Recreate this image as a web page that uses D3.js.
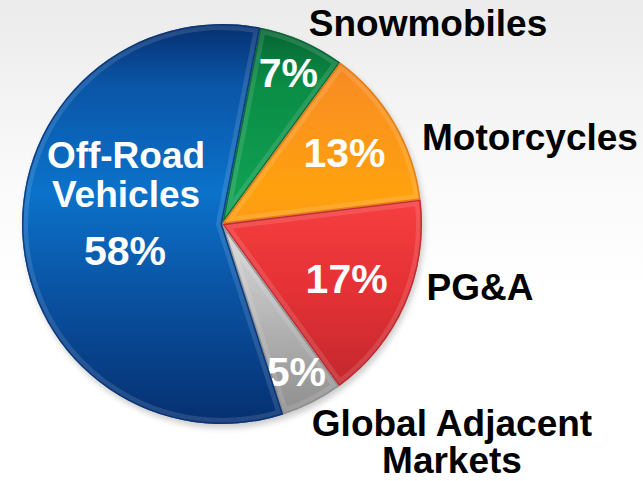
<!DOCTYPE html>
<meta charset="utf-8">
<style>
body { margin: 0; background: #fff; }
text { font-family: "Liberation Sans", Arial, sans-serif; font-weight: bold; }
</style>
<svg width="643" height="481"></svg>
<script src="https://d3js.org/d3.v7.min.js"></script>
<script>

// data, clockwise from the top
var segments = ["Snowmobiles", "Motorcycles", "PG&A", "Global Adjacent Markets", "Off-Road Vehicles"];
var shares = [7, 13, 17, 5, 58];
var outerLabels = [["Snowmobiles"], ["Motorcycles"], ["PG&A"], ["Global Adjacent", "Markets"], []];
var innerLabels = [[], [], [], [], ["Off-Road", "Vehicles"]];

// colours: [dark, base, light]
var sliceColors = [
  ["#056030", "#0a8c45", "#10a052"],
  ["#d9760f", "#f98e22", "#ffa10e"],
  ["#b5242a", "#e63236", "#f74040"],
  ["#8a8a8a", "#c4c4c4", "#e4e4e4"],
  ["#062f70", "#0a55a6", "#0b72ca"]
];

var svg = d3.select("svg"), width = +svg.attr("width"), height = +svg.attr("height");
var cx = 222, cy = 224, r = 200;
var startAt = 11 * Math.PI / 180;

var defs = svg.append("defs");

var bg = defs.append("linearGradient").attr("id", "bg").attr("x1", 0).attr("y1", 0).attr("x2", 0).attr("y2", 1);
bg.append("stop").attr("offset", "0").attr("stop-color", "#ebebeb");
bg.append("stop").attr("offset", "0.35").attr("stop-color", "#f9f9f9");
bg.append("stop").attr("offset", "0.6").attr("stop-color", "#ffffff");
svg.append("rect").attr("width", width).attr("height", height).attr("fill", "url(#bg)");

var shadow = defs.append("filter").attr("id", "shadow").attr("x", "-20%").attr("y", "-20%").attr("width", "140%").attr("height", "140%");
shadow.append("feGaussianBlur").attr("stdDeviation", 3);

sliceColors.forEach(function(c, i) {
  var g = defs.append("linearGradient").attr("id", "fill" + i)
    .attr("gradientUnits", "userSpaceOnUse")
    .attr("x1", 0).attr("y1", -r).attr("x2", 0).attr("y2", r);
  g.append("stop").attr("offset", "0").attr("stop-color", c[0]);
  g.append("stop").attr("offset", "0.15").attr("stop-color", c[1]);
  g.append("stop").attr("offset", "0.42").attr("stop-color", c[2]);
  g.append("stop").attr("offset", "0.65").attr("stop-color", c[1]);
  g.append("stop").attr("offset", "1").attr("stop-color", c[0]);
});

var pie = d3.pie().sort(null).value(function(d) { return d; })
  .startAngle(startAt).endAngle(startAt + 2 * Math.PI);
var arcs = pie(shares);
var arc = d3.arc().innerRadius(0).outerRadius(r);

var chart = svg.append("g").attr("transform", "translate(" + cx + "," + cy + ")");

// soft shadow under the disc
chart.append("circle").attr("cx", 2).attr("cy", 4).attr("r", r)
  .attr("fill", "#000").attr("opacity", 0.2).attr("filter", "url(#shadow)");

arcs.forEach(function(a, i) {
  defs.append("clipPath").attr("id", "clip" + i).append("path").attr("d", arc(a));
});

var slices = chart.selectAll("g.slice").data(arcs).enter().append("g").attr("class", "slice");

slices.append("path")
  .attr("d", arc)
  .attr("fill", function(d, i) { return "url(#fill" + i + ")"; });

// bevel: light band just inside the edges, dark rim
slices.append("path")
  .attr("d", arc)
  .attr("fill", "none")
  .attr("clip-path", function(d, i) { return "url(#clip" + i + ")"; })
  .attr("stroke", "#fff").attr("stroke-opacity", 0.12).attr("stroke-width", 12);

slices.append("path")
  .attr("d", arc)
  .attr("fill", "none")
  .attr("clip-path", function(d, i) { return "url(#clip" + i + ")"; })
  .attr("stroke", function(d, i) { return sliceColors[i][0]; })
  .attr("stroke-opacity", 0.8)
  .attr("stroke-width", 3);

// percentages inside the slices
var pctRadius = [166, 142, 136, 165, 0];
slices.each(function(d, i) {
  var mid = (d.startAngle + d.endAngle) / 2;
  var g = d3.select(this);
  if (i === 4) {
    var block = g.append("text").attr("fill", "#fff").attr("text-anchor", "middle");
    innerLabels[i].forEach(function(line, k) {
      block.append("tspan").attr("x", -96).attr("y", -56 + k * 39).attr("font-size", 37).text(line);
    });
    block.append("tspan").attr("x", -97).attr("y", 41).attr("font-size", 41).text(shares[i] + "%");
    return;
  }
  g.append("text")
    .attr("fill", "#fff")
    .attr("text-anchor", "middle")
    .attr("font-size", 41)
    .attr("x", pctRadius[i] * Math.sin(mid))
    .attr("y", -pctRadius[i] * Math.cos(mid) + 15)
    .text(shares[i] + "%");
});

// category names outside the pie
var outerAt = [[428, 36], [530, 150], [480, 300], [452, 436], null];
outerLabels.forEach(function(lines, i) {
  if (!lines.length) return;
  var t = svg.append("text").attr("fill", "#000").attr("text-anchor", "middle").attr("font-size", 37);
  lines.forEach(function(line, k) {
    t.append("tspan").attr("x", outerAt[i][0]).attr("y", outerAt[i][1] + k * 37).text(line);
  });
});

</script>
